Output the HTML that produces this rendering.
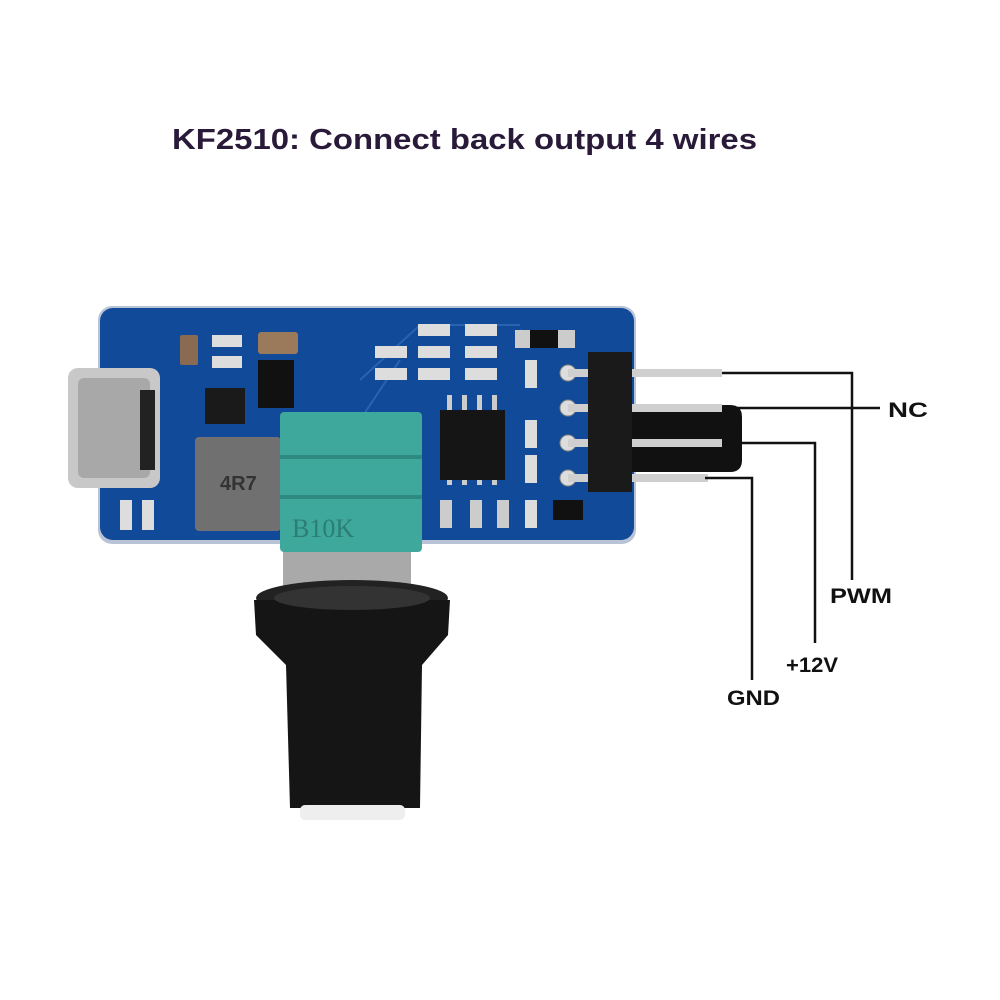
<!DOCTYPE html>
<html><head><style>
html,body{margin:0;padding:0;background:#fff;}
svg{display:block;}
text{font-family:"Liberation Sans",sans-serif;font-weight:bold;}
</style></head><body>
<svg width="1000" height="1000" viewBox="0 0 1000 1000" xmlns="http://www.w3.org/2000/svg">
<rect width="1000" height="1000" fill="#fff"/>
<text x="172" y="149" font-size="29" fill="#2a1a3a" textLength="585" lengthAdjust="spacingAndGlyphs">KF2510: Connect back output 4 wires</text>

<!-- PCB -->
<rect x="98" y="306" width="538" height="238" rx="14" fill="#b8c4d6"/>
<rect x="100" y="308" width="534" height="232" rx="13" fill="#104a98"/>
<path d="M360 380 L420 325 L520 325 M520 330 L560 345 M360 420 L400 360" stroke="#2a63b0" stroke-width="2" fill="none"/>
<g fill="#1a1a1a">
<rect x="180" y="335" width="18" height="30" rx="2" fill="#8a6a50"/>
<rect x="212" y="335" width="30" height="12" fill="#ddd"/><rect x="212" y="356" width="30" height="12" fill="#ddd"/>
<rect x="258" y="332" width="40" height="22" rx="3" fill="#9a7a5a"/>
<rect x="258" y="360" width="36" height="48" fill="#111"/>
<rect x="205" y="388" width="40" height="36"/>
<rect x="375" y="346" width="32" height="12" fill="#ddd"/><rect x="375" y="368" width="32" height="12" fill="#ddd"/>
<rect x="418" y="324" width="32" height="12" fill="#ddd"/><rect x="465" y="324" width="32" height="12" fill="#ddd"/>
<rect x="418" y="346" width="32" height="12" fill="#ddd"/><rect x="465" y="346" width="32" height="12" fill="#ddd"/>
<rect x="418" y="368" width="32" height="12" fill="#ddd"/><rect x="465" y="368" width="32" height="12" fill="#ddd"/>
<rect x="515" y="330" width="60" height="18" fill="#ccc"/><rect x="530" y="330" width="28" height="18" fill="#111"/>
<rect x="525" y="360" width="12" height="28" fill="#ddd"/>
<rect x="525" y="420" width="12" height="28" fill="#ddd"/>
<rect x="525" y="455" width="12" height="28" fill="#ddd"/>
<rect x="525" y="500" width="12" height="28" fill="#ddd"/>
<rect x="440" y="500" width="12" height="28" fill="#ccc"/><rect x="470" y="500" width="12" height="28" fill="#ccc"/><rect x="497" y="500" width="12" height="28" fill="#ccc"/>
<rect x="553" y="500" width="30" height="20" fill="#111"/>
<rect x="120" y="500" width="12" height="30" fill="#ddd"/><rect x="142" y="500" width="12" height="30" fill="#ddd"/>
</g>
<g fill="#ccc"><rect x="447" y="395" width="5" height="90"/><rect x="462" y="395" width="5" height="90"/><rect x="477" y="395" width="5" height="90"/><rect x="492" y="395" width="5" height="90"/></g>
<rect x="440" y="410" width="65" height="70" fill="#151515"/>
<rect x="68" y="368" width="92" height="120" rx="10" fill="#c8c8c8"/>
<rect x="78" y="378" width="72" height="100" rx="6" fill="#a8a8a8"/>
<rect x="140" y="390" width="15" height="80" fill="#222"/>
<rect x="195" y="437" width="86" height="94" rx="4" fill="#707070"/>
<text x="220" y="490" font-size="20" fill="#333">4R7</text>
<g fill="#ddd" stroke="#888"><circle cx="568" cy="373" r="8"/><circle cx="568" cy="408" r="8"/><circle cx="568" cy="443" r="8"/><circle cx="568" cy="478" r="8"/></g>
<path d="M632 405 L730 405 Q742 405 742 417 L742 460 Q742 472 730 472 L632 472 Z" fill="#111"/>
<g fill="#cfcfcf"><rect x="568" y="369" width="154" height="8"/><rect x="568" y="404" width="154" height="8"/><rect x="568" y="439" width="154" height="8"/><rect x="568" y="474" width="140" height="8"/></g>
<rect x="588" y="352" width="44" height="140" fill="#1a1a1a"/>
<g stroke="#111" stroke-width="2.5" fill="none">
<polyline points="722,373 852,373 852,580"/>
<polyline points="722,408 880,408"/>
<polyline points="722,443 815,443 815,643"/>
<polyline points="705,478 752,478 752,680"/>
</g>
<text x="888" y="417" font-size="21" fill="#111" textLength="40" lengthAdjust="spacingAndGlyphs">NC</text>
<text x="830" y="603" font-size="21" fill="#111" textLength="62" lengthAdjust="spacingAndGlyphs">PWM</text>
<text x="786" y="672" font-size="21" fill="#111" textLength="52" lengthAdjust="spacingAndGlyphs">+12V</text>
<text x="727" y="705" font-size="21" fill="#111" textLength="53" lengthAdjust="spacingAndGlyphs">GND</text>
<rect x="283" y="545" width="128" height="48" fill="#a9a9a9"/>
<rect x="280" y="412" width="142" height="140" rx="4" fill="#3ea89c"/>
<rect x="280" y="455" width="142" height="4" fill="#2e8a80"/>
<rect x="280" y="495" width="142" height="4" fill="#2e8a80"/>
<text x="292" y="537" font-size="26" fill="#2c7d74" style="font-family:'Liberation Serif',serif;font-weight:normal">B10K</text>
<ellipse cx="352" cy="598" rx="96" ry="18" fill="#222"/>
<path d="M254 600 L450 600 L448 635 L422 665 L420 808 L290 808 L286 665 L256 635 Z" fill="#151515"/>
<ellipse cx="352" cy="598" rx="78" ry="12" fill="#333"/>
<rect x="300" y="805" width="105" height="15" rx="5" fill="#eeeeee"/>
</svg>
</body></html>
